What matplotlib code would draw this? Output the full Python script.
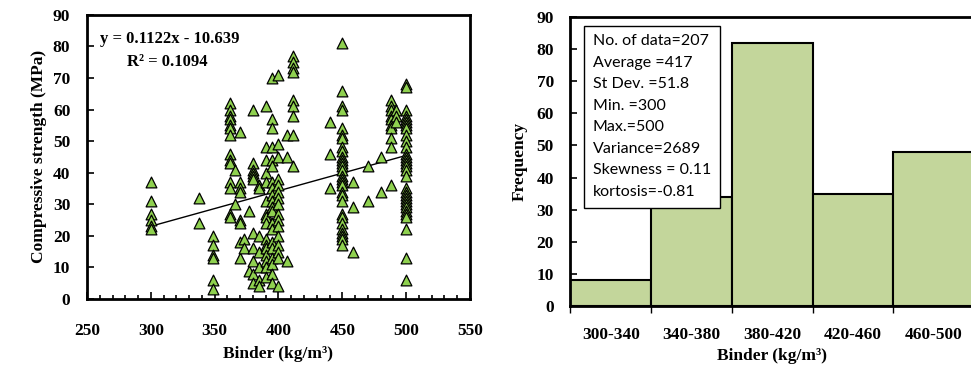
import numpy as np
import matplotlib
matplotlib.use("Agg")
import matplotlib.pyplot as plt
from matplotlib.ticker import MultipleLocator, FixedLocator

# binder content (kg/m3) -> measured compressive strengths (MPa)
groups = {
    300: [37, 31, 27, 25, 23, 22],
    338: [32, 24],
    349: [20, 17, 14, 13, 6, 3],
    362: [62, 60, 58, 57, 55, 54, 52, 46, 44, 43, 37, 35, 27, 26],
    366: [41, 30],
    370: [53, 37, 35, 34, 25, 24, 18, 13],
    373: [19, 16],
    377: [28, 9],
    380: [60, 43, 41, 40, 39, 38, 21, 16, 12, 8, 5],
    385: [36, 35, 20, 15, 10, 6, 4],
    390: [61, 48, 44, 40, 37, 31, 27, 26, 24, 19, 17, 16, 14, 12, 10, 7],
    395: [70, 57, 54, 48, 44, 42, 37, 35, 33, 31, 29, 28, 24, 22, 18, 16, 13, 11, 8, 5],
    400: [71, 49, 45, 38, 36, 34, 32, 30, 27, 25, 23, 20, 17, 15, 13, 4],
    407: [52, 45, 12],
    411: [77, 75, 73, 72, 63, 61, 58, 52, 42],
    440: [56, 46, 35],
    450: [81, 66, 61, 60, 54, 52, 51, 48, 47, 45, 44, 43, 42, 41, 39, 38, 37, 36,
          34, 33, 31, 27, 26, 24, 22, 21, 20, 19, 17],
    458: [37, 29, 15],
    470: [42, 31],
    480: [45, 34],
    488: [63, 61, 60, 58, 57, 55, 54, 51, 48, 36],
    492: [60, 58, 56],
    500: [68, 67, 60, 58, 57, 56, 55, 54, 52, 50, 48, 46, 45, 44, 43, 42, 41, 39,
          35, 34, 33, 32, 31, 30, 29, 28, 27, 26, 22, 13, 6],
}
binder = np.concatenate([[b] * len(v) for b, v in groups.items()])
strength = np.concatenate([v for v in groups.values()])

# linear trend
slope, intercept = 0.1122, -10.639
r2 = 0.1094

# histogram of binder
bins = ["300-340", "340-380", "380-420", "420-460", "460-500"]
freq = [8, 34, 82, 35, 48]
stats = ["No. of data=207", "Average =417", "St Dev. =51.8", "Min. =300",
         "Max.=500", "Variance=2689", "Skewness = 0.11", "kortosis=-0.81"]

serif = "Liberation Serif"
tick_font = dict(family=serif, weight="bold", size=12.5)
label_kw = dict(fontfamily=serif, fontweight="bold", fontsize=12.5)

fig = plt.figure(figsize=(9.71, 3.70), dpi=100)

# ---- scatter ----
ax = fig.add_axes([0.0896, 0.192, 0.3944, 0.768])
ax.scatter(binder, strength, marker="^", s=60, facecolor="#8fd14f",
           edgecolor="black", linewidth=0.9, zorder=3)
xl = np.array([binder.min(), binder.max()])
ax.plot(xl, slope * xl + intercept, color="black", lw=1, zorder=2)
ax.set_xlim(250, 550)
ax.set_ylim(0, 90)
ax.xaxis.set_major_locator(MultipleLocator(50))
ax.xaxis.set_minor_locator(MultipleLocator(10))
ax.yaxis.set_major_locator(MultipleLocator(10))
ax.tick_params(axis="both", which="both", direction="in", top=False, right=False)
ax.tick_params(axis="x", which="major", length=5, width=1.2, pad=17)
ax.tick_params(axis="x", which="minor", length=3, width=1.2)
ax.tick_params(axis="y", which="major", length=5, width=1.2, pad=12)
for lab in ax.get_xticklabels() + ax.get_yticklabels():
    lab.set_fontproperties(tick_font)
for s in ax.spines.values():
    s.set_linewidth(2)
ax.set_xlabel("Binder (kg/m³)", labelpad=5, **label_kw)
ax.set_ylabel("Compressive strength (MPa)", labelpad=4, **label_kw)
ax.text(0.035, 0.9, f"y = {slope}x - {abs(intercept)}", transform=ax.transAxes,
        fontfamily=serif, fontweight="bold", fontsize=12)
ax.text(0.105, 0.82, f"R² = {r2}", transform=ax.transAxes,
        fontfamily=serif, fontweight="bold", fontsize=12)

# ---- histogram ----
ax2 = fig.add_axes([0.5875, 0.173, 0.4155, 0.781])
pos = np.arange(len(bins))
ax2.bar(pos, freq, width=1, color="#c3d69b", edgecolor="black", linewidth=1.5, zorder=2)
ax2.set_xlim(-0.5, len(bins) - 0.5)
ax2.set_ylim(0, 90)
ax2.set_xticks(pos)
ax2.set_xticklabels(bins)
ax2.xaxis.set_minor_locator(FixedLocator(np.arange(len(bins) + 1) - 0.5))
ax2.tick_params(axis="x", which="major", length=0, pad=15)
ax2.tick_params(axis="x", which="minor", direction="out", length=5, width=1)
ax2.yaxis.set_major_locator(MultipleLocator(10))
ax2.tick_params(axis="y", direction="in", length=5, width=1.2, pad=12)
for lab in ax2.get_xticklabels() + ax2.get_yticklabels():
    lab.set_fontproperties(tick_font)
for s in ax2.spines.values():
    s.set_linewidth(2)
ax2.set_xlabel("Binder (kg/m³)", labelpad=4, **label_kw)
ax2.set_ylabel("Frequency", labelpad=6, **label_kw)
ax2.text(0.055, 0.94, "\n".join(stats), transform=ax2.transAxes, va="top", ha="left",
         fontfamily="Lato", fontsize=11.5, linespacing=1.68, zorder=5,
         bbox=dict(boxstyle="square,pad=0.55", facecolor="white", edgecolor="black", linewidth=1))

fig.savefig("out.png", dpi=100)
